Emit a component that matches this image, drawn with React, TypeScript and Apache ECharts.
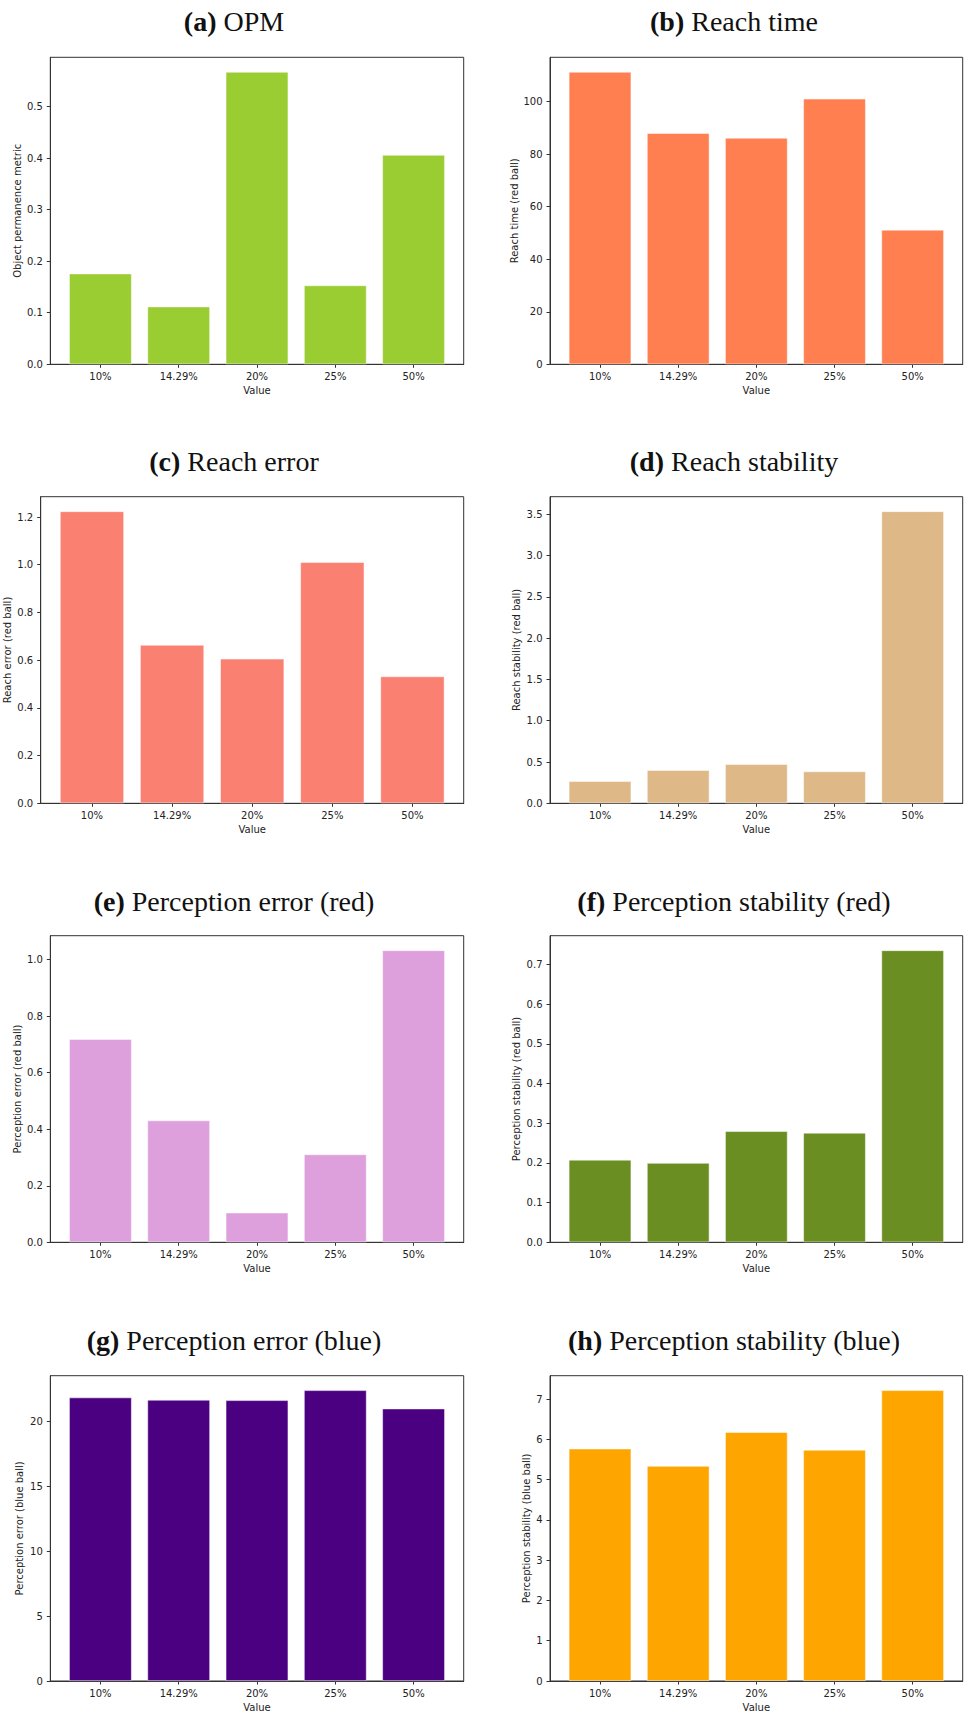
import React, { useEffect, useRef } from "react";
import * as echarts from "echarts";

// Shared x categories (fraction values)
const categories = ["10%", "14.29%", "20%", "25%", "50%"];

// Series values per metric
const opmValues = [0.176, 0.112, 0.567, 0.153, 0.406];
const reachTimeValues = [111.3, 88.0, 86.2, 101.1, 51.2];
const reachErrorValues = [1.224, 0.664, 0.606, 1.011, 0.532];
const reachStabilityValues = [0.269, 0.402, 0.475, 0.386, 3.536];
const percErrRedValues = [0.719, 0.431, 0.105, 0.311, 1.033];
const percStabRedValues = [0.208, 0.2, 0.28, 0.276, 0.736];
const percErrBlueValues = [21.82, 21.64, 21.61, 22.38, 20.97];
const percStabBlueValues = [5.77, 5.34, 6.18, 5.74, 7.22];

// Y tick labels per metric
const opmTicks = [0, 0.1, 0.2, 0.3, 0.4, 0.5];
const reachTimeTicks = [0, 20, 40, 60, 80, 100];
const reachErrorTicks = [0, 0.2, 0.4, 0.6, 0.8, 1.0, 1.2];
const reachStabilityTicks = [0, 0.5, 1.0, 1.5, 2.0, 2.5, 3.0, 3.5];
const percErrRedTicks = [0, 0.2, 0.4, 0.6, 0.8, 1.0];
const percStabRedTicks = [0, 0.1, 0.2, 0.3, 0.4, 0.5, 0.6, 0.7];
const percErrBlueTicks = [0, 5, 10, 15, 20];
const percStabBlueTicks = [0, 1, 2, 3, 4, 5, 6, 7];

const SANS = "DejaVu Sans";
const SERIF = "Liberation Serif";
const INK = "#222";
const SPINE = "#333";

type Panel = {
  tag: string;
  title: string;
  yName: string;
  values: number[];
  ticks: number[];
  decimals: number;
  color: string;
  left: number;
  top: number;
  width: number;
  height: number;
  nameGap: number;
  titleX: number;
  titleY: number;
};

const panels: Panel[] = [
  { tag: "(a)", title: "OPM", yName: "Object permanence metric", values: opmValues, ticks: opmTicks, decimals: 1, color: "#9ACD32",
    left: 50.3, top: 57.3, width: 413.4, height: 307, nameGap: 28, titleX: 234, titleY: 21.7 },
  { tag: "(b)", title: "Reach time", yName: "Reach time (red ball)", values: reachTimeValues, ticks: reachTimeTicks, decimals: 0, color: "#FF7F50",
    left: 550, top: 57.3, width: 412.7, height: 307, nameGap: 31, titleX: 734, titleY: 21.7 },
  { tag: "(c)", title: "Reach error", yName: "Reach error (red ball)", values: reachErrorValues, ticks: reachErrorTicks, decimals: 1, color: "#FA8072",
    left: 40.7, top: 496.7, width: 423, height: 306.6, nameGap: 28, titleX: 234, titleY: 461.7 },
  { tag: "(d)", title: "Reach stability", yName: "Reach stability (red ball)", values: reachStabilityValues, ticks: reachStabilityTicks, decimals: 1, color: "#DEB887",
    left: 550, top: 496.7, width: 412.7, height: 306.6, nameGap: 28.5, titleX: 734, titleY: 461.7 },
  { tag: "(e)", title: "Perception error (red)", yName: "Perception error (red ball)", values: percErrRedValues, ticks: percErrRedTicks, decimals: 1, color: "#DDA0DD",
    left: 50.3, top: 935.7, width: 413.4, height: 306.6, nameGap: 28, titleX: 234, titleY: 901.3 },
  { tag: "(f)", title: "Perception stability (red)", yName: "Perception stability (red ball)", values: percStabRedValues, ticks: percStabRedTicks, decimals: 1, color: "#6B8E23",
    left: 550, top: 935.7, width: 412.7, height: 306.6, nameGap: 28.5, titleX: 734, titleY: 901.3 },
  { tag: "(g)", title: "Perception error (blue)", yName: "Perception error (blue ball)", values: percErrBlueValues, ticks: percErrBlueTicks, decimals: 0, color: "#4B0082",
    left: 50.3, top: 1375.7, width: 413.4, height: 305.3, nameGap: 26, titleX: 234, titleY: 1340.8 },
  { tag: "(h)", title: "Perception stability (blue)", yName: "Perception stability (blue ball)", values: percStabBlueValues, ticks: percStabBlueTicks, decimals: 0, color: "#FFA500",
    left: 550, top: 1375.7, width: 412.7, height: 305.3, nameGap: 19, titleX: 734, titleY: 1340.8 },
];

const catIndex = categories.map((_, i) => i);

function buildOption() {
  const grid: any[] = [];
  const xAxis: any[] = [];
  const yAxis: any[] = [];
  const series: any[] = [];
  const graphic: any[] = [];

  panels.forEach((p, i) => {
    grid.push({
      left: p.left,
      top: p.top,
      width: p.width,
      height: p.height,
      show: true,
      borderColor: SPINE,
      borderWidth: 1,
      backgroundColor: "transparent",
      containLabel: false,
    });
    xAxis.push({
      type: "value",
      gridIndex: i,
      min: -0.64,
      max: categories.length - 1 + 0.64,
      splitLine: { show: false },
      axisLine: { show: true, onZero: false, lineStyle: { color: SPINE, width: 1 } },
      axisTick: { show: true, length: 3.5, lineStyle: { color: SPINE }, customValues: catIndex },
      axisLabel: {
        customValues: catIndex,
        formatter: (v: number) => categories[Math.round(v)] ?? "",
        color: INK,
        fontFamily: SANS,
        fontSize: 10,
        margin: 7.5,
      },
      name: "Value",
      nameLocation: "middle",
      nameGap: 21,
      nameTextStyle: { color: INK, fontFamily: SANS, fontSize: 10 },
    });
    const maxVal = Math.max(...p.values);
    yAxis.push({
      type: "value",
      gridIndex: i,
      min: 0,
      max: maxVal * 1.05,
      splitLine: { show: false },
      axisLine: { show: true, onZero: false, lineStyle: { color: SPINE, width: 1 } },
      axisTick: { show: true, length: 3.5, lineStyle: { color: SPINE }, customValues: p.ticks },
      axisLabel: {
        customValues: p.ticks,
        formatter: (v: number) => v.toFixed(p.decimals),
        color: INK,
        fontFamily: SANS,
        fontSize: 10,
        margin: 7.5,
      },
      name: p.yName,
      nameLocation: "middle",
      nameRotate: 90,
      nameGap: p.nameGap,
      nameTextStyle: { color: INK, fontFamily: SANS, fontSize: 10 },
    });
    series.push({
      type: "bar",
      xAxisIndex: i,
      yAxisIndex: i,
      data: p.values.map((v, k) => [k, v]),
      barWidth: "80%",
      itemStyle: { color: p.color, borderColor: "rgba(255,255,255,0.7)", borderWidth: 0.7 },
      silent: true,
    });
    graphic.push({
      type: "text",
      x: p.titleX,
      y: p.titleY,
      style: {
        text: `{b|${p.tag}} {r|${p.title}}`,
        fontFamily: SERIF,
        fontSize: 28,
        fill: "#111",
        align: "center",
        verticalAlign: "middle",
        rich: {
          b: { fontFamily: SERIF, fontSize: 28, fontWeight: "bold", fill: "#111", color: "#111" },
          r: { fontFamily: SERIF, fontSize: 28, fontWeight: "normal", fill: "#111", color: "#111" },
        },
      },
    });
  });

  return {
    animation: false,
    backgroundColor: "#fff",
    grid,
    xAxis,
    yAxis,
    series,
    graphic,
  };
}

export default function App() {
  const ref = useRef<HTMLDivElement>(null);

  useEffect(() => {
    if (!ref.current) return;
    const chart = echarts.init(ref.current, null, { renderer: "svg" });
    chart.setOption(buildOption() as any);
    return () => chart.dispose();
  }, []);

  return (
    <div
      ref={ref}
      style={{ position: "absolute", left: 0, top: 0, width: 965, height: 1725, background: "#fff" }}
    />
  );
}
